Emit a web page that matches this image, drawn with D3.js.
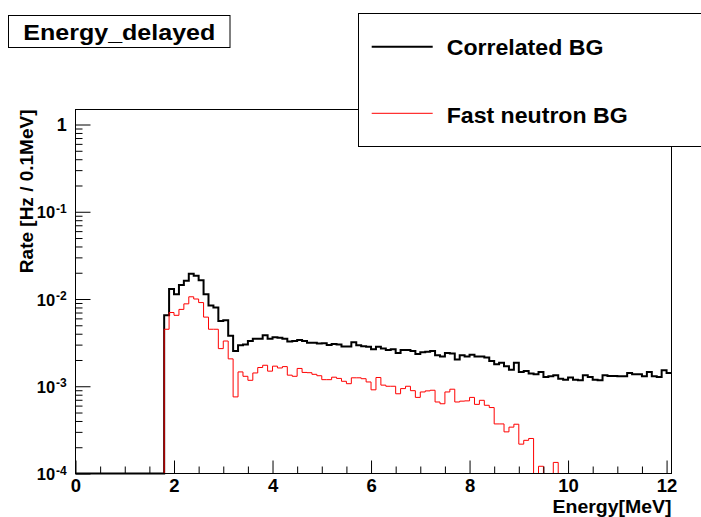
<!DOCTYPE html>
<html>
<head>
<meta charset="utf-8">
<script src="https://cdn.jsdelivr.net/npm/d3@7/dist/d3.min.js"></script>
<style>
  html, body { margin: 0; padding: 0; background: #fff; }
  svg { display: block; }
  text { font-family: "Liberation Sans", Arial, Helvetica, sans-serif; font-weight: bold; fill: #000; }
</style>
</head>
<body>
<svg id="chart" width="701" height="517"></svg>
<script>
// Histogram binning: 121 bins of 0.1 MeV starting at 0 MeV
const binStart = 0;
const binWidth = 0.1;

// Rate per 0.1 MeV bin [Hz]
const correlatedBG = [
  0, 0, 0, 0, 0, 0, 0, 0, 0, 0,
  0, 0, 0, 0, 0, 0, 0, 0, 6.5e-3, 1.3e-2,
  1.13e-2, 1.45e-2, 1.62e-2, 1.95e-2, 1.85e-2, 1.64e-2, 1.13e-2, 8.4e-3, 8.0e-3, 5.6e-3,
  5.7e-3, 3.8e-3, 2.54e-3, 2.95e-3, 3.0e-3, 3.3e-3, 3.5e-3, 3.5e-3, 3.85e-3, 3.5e-3,
  3.65e-3, 3.6e-3, 3.5e-3, 3.25e-3, 3.3e-3, 3.4e-3, 3.3e-3, 3.15e-3, 3.15e-3, 3.1e-3,
  3.12e-3, 2.98e-3, 3.05e-3, 3.0e-3, 2.86e-3, 2.86e-3, 3.2e-3, 2.95e-3, 2.88e-3, 2.83e-3,
  2.65e-3, 2.83e-3, 2.7e-3, 2.6e-3, 2.65e-3, 2.4e-3, 2.6e-3, 2.6e-3, 2.54e-3, 2.35e-3,
  2.45e-3, 2.49e-3, 2.54e-3, 2.27e-3, 2.2e-3, 2.4e-3, 2.37e-3, 2.02e-3, 2.27e-3, 2.2e-3,
  2.3e-3, 2.2e-3, 2.2e-3, 2.13e-3, 1.95e-3, 1.79e-3, 1.86e-3, 1.7e-3, 1.55e-3, 1.86e-3,
  1.46e-3, 1.5e-3, 1.4e-3, 1.37e-3, 1.46e-3, 1.28e-3, 1.3e-3, 1.34e-3, 1.22e-3, 1.19e-3,
  1.26e-3, 1.19e-3, 1.17e-3, 1.34e-3, 1.28e-3, 1.19e-3, 1.17e-3, 1.34e-3, 1.31e-3, 1.31e-3,
  1.3e-3, 1.3e-3, 1.42e-3, 1.37e-3, 1.37e-3, 1.3e-3, 1.46e-3, 1.3e-3, 1.28e-3, 1.53e-3,
  1.42e-3
];

const fastNeutronBG = [
  0, 0, 0, 0, 0, 0, 0, 0, 0, 0,
  0, 0, 0, 0, 0, 0, 0, 0, 4.5e-3, 7.0e-3,
  6.5e-3, 7.6e-3, 8.8e-3, 1.06e-2, 1.0e-2, 9.1e-3, 6.2e-3, 4.5e-3, 4.5e-3, 2.7e-3,
  3.3e-3, 2.06e-3, 7.55e-4, 1.46e-3, 1.3e-3, 1.17e-3, 1.42e-3, 1.64e-3, 1.74e-3, 1.49e-3,
  1.7e-3, 1.62e-3, 1.68e-3, 1.34e-3, 1.3e-3, 1.6e-3, 1.44e-3, 1.43e-3, 1.37e-3, 1.32e-3,
  1.19e-3, 1.19e-3, 1.27e-3, 1.23e-3, 1.14e-3, 1.07e-3, 1.25e-3, 1.25e-3, 1.22e-3, 1.12e-3,
  9.1e-4, 1.26e-3, 1.03e-3, 1.0e-3, 1.0e-3, 8.2e-4, 9.4e-4, 1.0e-3, 8.9e-4, 7.45e-4,
  8.6e-4, 8.85e-4, 9.0e-4, 6.6e-4, 6.3e-4, 8.6e-4, 9.25e-4, 6.6e-4, 6.75e-4, 6.8e-4,
  7.45e-4, 6.2e-4, 6.9e-4, 6.05e-4, 5.7e-4, 3.7e-4, 3.7e-4, 3.0e-4, 3.4e-4, 3.67e-4,
  2.17e-4, 2.4e-4, 2.52e-4, 0, 1.21e-4, 0, 0, 1.34e-4, 0, 0,
  0, 0, 0, 0, 0, 0, 0, 0, 0, 0,
  0, 0, 0, 0, 0, 0, 0, 0, 0, 0,
  0
];

const seriesNames = ["Correlated BG", "Fast neutron BG"];
const seriesColors = ["#000000", "#ff0000"];
const xMajorTicks = [0, 2, 4, 6, 8, 10, 12];
const xMinorTicks = [0.5, 1, 1.5, 2.5, 3, 3.5, 4.5, 5, 5.5, 6.5, 7, 7.5, 8.5, 9, 9.5, 10.5, 11, 11.5];
const yDecadeExponents = [0, -1, -2, -3, -4];
const histTitle = "Energy_delayed";
const xTitle = "Energy[MeV]";
const yTitle = "Rate [Hz / 0.1MeV]";

// ---- layout ----
const W = 701, H = 517;
const frame = { left: 75.5, right: 671.5, top: 109.5, bottom: 473.5 };
const nBins = correlatedBG.length;
const xMax = binStart + nBins * binWidth;
const yMin = 1e-4, yMax = 1.486;

const svg = d3.select("#chart");
svg.append("rect").attr("width", W).attr("height", H).attr("fill", "#fff");

const x = d3.scaleLinear().domain([binStart, xMax]).range([frame.left, frame.right]);
const y = d3.scaleLog().domain([yMin, yMax]).range([frame.bottom, frame.top]);

// step outline of a histogram; empty bins sit on the lower frame edge
function stepPoints(values) {
  const pts = [];
  values.forEach((v, i) => {
    const lo = binStart + i * binWidth, hi = lo + binWidth;
    const vv = Math.max(v, yMin);
    pts.push([lo, vv], [hi, vv]);
  });
  return pts;
}
const stepLine = d3.line().x(d => x(d[0])).y(d => y(d[1]));

// histograms
svg.append("path")
  .attr("d", stepLine(stepPoints(correlatedBG)))
  .attr("fill", "none").attr("stroke", seriesColors[0]).attr("stroke-width", 2)
  .attr("stroke-linejoin", "miter");
svg.append("path")
  .attr("d", stepLine(stepPoints(fastNeutronBG)))
  .attr("fill", "none").attr("stroke", seriesColors[1]).attr("stroke-width", 1)
  .attr("stroke-linejoin", "miter");

// frame
svg.append("rect")
  .attr("x", frame.left).attr("y", frame.top)
  .attr("width", frame.right - frame.left).attr("height", frame.bottom - frame.top)
  .attr("fill", "none").attr("stroke", "#000").attr("stroke-width", 1);

// x axis: ticks point inward
const xAxisG = svg.append("g").attr("transform", `translate(0,${frame.bottom})`);
xAxisG.call(d3.axisBottom(x).tickValues(xMinorTicks).tickSize(-7).tickFormat(""));
xAxisG.append("g").call(d3.axisBottom(x).tickValues(xMajorTicks).tickSize(-13).tickPadding(5.5).tickFormat(d3.format("d")));
xAxisG.selectAll(".domain").remove();
xAxisG.selectAll("line").attr("stroke", "#000");
xAxisG.selectAll("text")
  .attr("font-size", 18.5).attr("font-family", null).attr("fill", "#000");

// y axis (log)
const yMinor = [];
yDecadeExponents.forEach(e => {
  for (let k = 2; k <= 9; k++) {
    const v = k * Math.pow(10, e);
    if (v < yMax) yMinor.push(v);
  }
});
const yMajor = yDecadeExponents.map(e => Math.pow(10, e));
const yAxisG = svg.append("g").attr("transform", `translate(${frame.left},0)`);
yAxisG.call(d3.axisLeft(y).tickValues(yMinor).tickSize(-7).tickFormat(""));
yAxisG.append("g").call(d3.axisLeft(y).tickValues(yMajor).tickSize(-15).tickFormat(""));
yAxisG.selectAll(".domain").remove();
yAxisG.selectAll("line").attr("stroke", "#000");

// y tick labels: 1, 10^-1 ... 10^-4
const labelRight = 66.7;
yDecadeExponents.forEach(e => {
  const ty = y(Math.pow(10, e));
  if (e === 0) {
    svg.append("text").attr("x", labelRight).attr("y", ty + 6.5)
      .attr("text-anchor", "end").attr("font-size", 18).text("1");
  } else {
    svg.append("text").attr("x", labelRight).attr("y", ty + 1)
      .attr("text-anchor", "end").attr("font-size", 12).text(String(e));
    svg.append("text").attr("x", labelRight - 11.5).attr("y", ty + 6.6)
      .attr("text-anchor", "end").attr("font-size", 16.5).text("10");
  }
});

// axis titles
svg.append("text").attr("x", frame.right).attr("y", 512.5)
  .attr("text-anchor", "end").attr("font-size", 18.5)
  .attr("textLength", 119).attr("lengthAdjust", "spacingAndGlyphs").text(xTitle);
svg.append("text")
  .attr("transform", `translate(33.3,${frame.top}) rotate(-90)`)
  .attr("text-anchor", "end").attr("font-size", 19).text(yTitle);

// title box
svg.append("rect").attr("x", 8.5).attr("y", 15.5).attr("width", 221.5).attr("height", 32)
  .attr("fill", "#fff").attr("stroke", "#000").attr("stroke-width", 1);
svg.append("text").attr("x", 23.3).attr("y", 39.5).attr("font-size", 22.5)
  .attr("textLength", 192).attr("lengthAdjust", "spacingAndGlyphs").text(histTitle);

// legend
const legend = svg.append("g");
legend.append("rect").attr("x", 358.5).attr("y", 13.5).attr("width", 360).attr("height", 133)
  .attr("fill", "#fff").attr("stroke", "#000").attr("stroke-width", 1);
const legendRows = [
  { name: seriesNames[0], color: seriesColors[0], width: 2, lineY: 46.7, textY: 55.3, len: 156.7 },
  { name: seriesNames[1], color: seriesColors[1], width: 1, lineY: 113.3, textY: 123, len: 181 }
];
legendRows.forEach(r => {
  legend.append("line").attr("x1", 371.7).attr("x2", 432.7).attr("y1", r.lineY).attr("y2", r.lineY)
    .attr("stroke", r.color).attr("stroke-width", r.width);
  legend.append("text").attr("x", 446.7).attr("y", r.textY).attr("font-size", 22.5)
    .attr("textLength", r.len).attr("lengthAdjust", "spacingAndGlyphs").text(r.name);
});
</script>
</body>
</html>
